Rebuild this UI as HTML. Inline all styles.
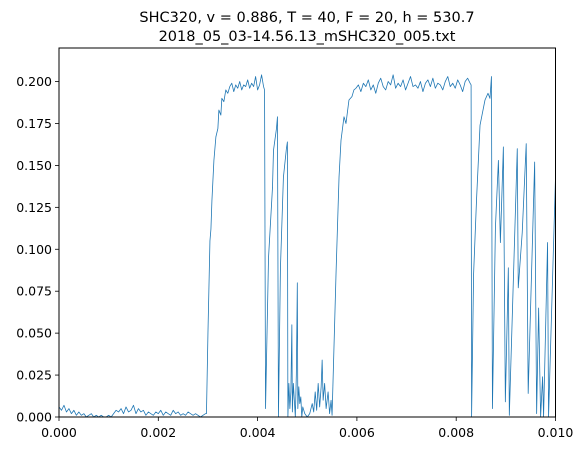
<!DOCTYPE html>
<html><head><meta charset="utf-8"><style>
body{margin:0;background:#fff}
svg{display:block;font-family:"DejaVu Sans","Liberation Sans",sans-serif}
</style></head><body>
<svg id="c" width="585" height="451" viewBox="0 0 585 451">
<text x="307" y="22" text-anchor="middle" font-size="14.5">SHC320, v = 0.886, T = 40, F = 20, h = 530.7</text>
<text x="307" y="41" text-anchor="middle" font-size="14.5">2018_05_03-14.56.13_mSHC320_005.txt</text>
<g id="plot"></g>
</svg>
<script>
const timeMs=[0,0.05,0.1,0.15,0.2,0.25,0.3,0.35,0.4,0.45,0.5,0.55,0.6,0.65,0.7,0.75,0.8,0.85,0.9,0.95,1,1.05,1.1,1.15,1.2,1.25,1.3,1.35,1.4,1.45,1.5,1.55,1.6,1.65,1.7,1.75,1.8,1.85,1.9,1.95,2,2.05,2.1,2.15,2.2,2.25,2.3,2.35,2.4,2.45,2.5,2.55,2.6,2.65,2.7,2.75,2.8,2.85,2.9,2.95,
2.97,3.0,3.04,3.06,3.08,3.12,3.16,3.2,3.22,3.26,3.28,3.32,3.36,3.4,
3.44,3.48,3.52,3.56,3.6,3.64,3.68,3.72,3.76,3.8,3.84,3.88,3.92,3.96,4.0,4.04,4.08,4.12,
4.14,4.16,4.22,4.3,4.32,4.38,4.4,4.42,4.46,4.52,4.58,4.6,4.61,
4.63,4.65,4.67,4.69,4.7,4.72,4.74,4.76,4.78,4.8,4.81,4.83,4.85,4.87,4.89,4.91,4.95,5.0,5.05,5.1,5.13,5.16,5.19,5.22,5.25,5.28,5.3,5.32,5.35,5.38,5.42,5.45,5.48,5.5,
5.58,5.64,5.68,5.74,5.78,5.84,5.9,5.94,
5.98,6.03,6.08,6.13,6.18,6.23,6.28,6.33,6.38,6.43,6.48,6.53,6.58,6.63,6.68,6.73,6.78,6.83,6.88,6.93,6.98,7.03,7.08,7.13,7.18,7.23,7.28,7.33,7.38,7.43,7.48,7.53,7.58,7.63,7.68,7.73,7.78,7.83,7.88,7.93,7.98,8.03,8.08,8.13,8.18,8.23,8.28,
8.3,8.31,8.35,8.41,8.48,8.52,8.58,8.64,8.68,8.71,8.73,8.79,8.85,8.89,8.95,8.99,9.05,9.07,9.23,9.25,9.33,9.41,9.45,9.58,9.62,9.66,9.7,9.74,9.76,9.84,9.86,10.0];
const signal=[.006,.004,.007,.003,.005,.002,.004,.001,.003,.001,.002,0,.001,.002,0,.001,0,.001,0,0,.001,0,.002,.004,.003,.005,.002,.006,.003,.004,.007,.002,.005,.003,.004,.001,.003,.002,.001,.003,.002,.004,.001,.003,.002,.001,.004,.002,.003,.001,.002,.001,.003,.002,.001,.002,.001,0,.001,.002,
.002,.05,.105,.112,.129,.153,.167,.172,.183,.18,.19,.188,.195,.193,
.197,.199,.194,.198,.196,.2,.195,.198,.197,.201,.196,.199,.197,.203,.195,.198,.204,.197,
.195,.005,.095,.137,.159,.172,.179,0,.089,.143,.16,.164,0,
.02,.005,.015,.055,.003,.02,.01,0,.025,.08,.005,.018,.008,.012,0,.006,.002,0,.002,.008,.003,.015,.004,.02,.006,.018,.034,.01,.02,.005,.015,.002,.01,.001,
.086,.143,.165,.179,.175,.189,.191,.195,
.196,.198,.194,.199,.197,.201,.195,.198,.193,.199,.202,.197,.195,.2,.198,.204,.196,.199,.197,.201,.195,.199,.203,.197,.198,.196,.2,.194,.199,.201,.197,.202,.196,.199,.198,.195,.2,.203,.197,.199,.196,.201,.198,.194,.2,.202,.199,
.198,0,.085,.13,.174,.18,.189,.193,.19,.203,.005,.113,.153,.104,.161,.009,.089,.001,.16,.077,.11,.163,.014,.152,.002,.065,0,.024,0,.104,0,.143];
const xTicks=[0,2,4,6,8,10];
const xTickLabels=["0.000","0.002","0.004","0.006","0.008","0.010"];
const yTicks=[0,0.025,0.05,0.075,0.1,0.125,0.15,0.175,0.2];
const yTickLabels=["0.000","0.025","0.050","0.075","0.100","0.125","0.150","0.175","0.200"];

const L=59,R=555.5,T=48,B=417,XMAX=10,YMAX=0.22;
const sx=v=>L+v/XMAX*(R-L);
const sy=v=>B-v/YMAX*(B-T);
const NS="http://www.w3.org/2000/svg";
const g=document.getElementById('plot');
function mk(tag,attrs){const e=document.createElementNS(NS,tag);for(const k in attrs)e.setAttribute(k,attrs[k]);g.appendChild(e);return e;}
const clip=document.createElementNS(NS,'clipPath');clip.setAttribute('id','cp');
const cr=document.createElementNS(NS,'rect');cr.setAttribute('x',L);cr.setAttribute('y',T);cr.setAttribute('width',R-L);cr.setAttribute('height',B-T);clip.appendChild(cr);g.appendChild(clip);
let d='';
for(let i=0;i<timeMs.length;i++){d+=(i?'L':'M')+sx(timeMs[i]).toFixed(2)+' '+sy(signal[i]).toFixed(2);}
const line=mk('path',{d:d,fill:'none',stroke:'#1f77b4','stroke-width':0.8,'clip-path':'url(#cp)','stroke-linejoin':'round'});


const frame=mk('rect',{x:L,y:T,width:R-L,height:B-T,fill:'none',stroke:'#000','stroke-width':1});


xTicks.forEach((v,i)=>{
  const x=sx(v);
  const t=mk('line',{x1:x,x2:x,y1:B,y2:B+4,stroke:'#000','stroke-width':0.8});
  
  
  const tx=mk('text',{x:x,y:B+20,'text-anchor':'middle','font-size':12.5});
  tx.textContent=xTickLabels[i];
  
  
});
yTicks.forEach((v,i)=>{
  const y=sy(v);
  const t=mk('line',{x1:L-4,x2:L,y1:y,y2:y,stroke:'#000','stroke-width':0.8});
  
  
  const tx=mk('text',{x:L-7,y:y+4.5,'text-anchor':'end','font-size':12.5});
  tx.textContent=yTickLabels[i];
  
  
});
</script>
</body></html>
